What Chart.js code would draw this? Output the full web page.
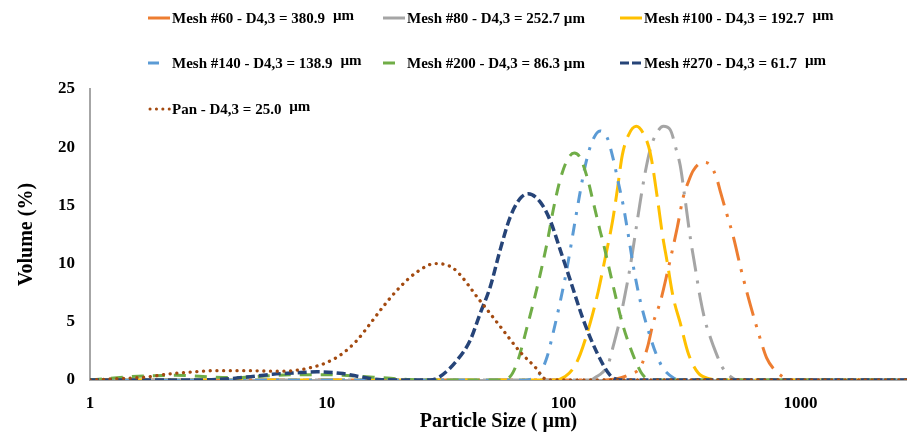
<!DOCTYPE html>
<html>
<head>
<meta charset="utf-8">
<script src="https://cdn.jsdelivr.net/npm/chart.js@4.4.1/dist/chart.umd.min.js"></script>
<style>
  body { margin: 0; background: #fff; }
  #wrap { position: relative; width: 907px; height: 434px; }
  .leg { position: absolute; height: 18px; font: bold 15px 'Liberation Serif', 'Times New Roman', serif; color: #000; white-space: nowrap; line-height: 18px; }
  .leg svg { position: absolute; left: 0; top: 6px; }
  .leg span.txt { position: absolute; left: 24px; top: 0; }
  .um { position: relative; top: -3px; margin-left: 4px; }
</style>
</head>
<body>
<div id="wrap">
  <canvas id="psdChart"></canvas>
  <div id="legend"></div>
</div>
<script>
// axis ticks
const xTicks = [1, 10, 100, 1000];
const yTicks = [0, 5, 10, 15, 20, 25];

// legend text
const seriesNames = ['Mesh #60', 'Mesh #80', 'Mesh #100', 'Mesh #140', 'Mesh #200', 'Mesh #270', 'Pan'];
const seriesD43 = [380.9, 252.7, 192.7, 138.9, 86.3, 61.7, 25.0];

// particle size (um) / volume (%)
const mesh60Size = [1, 150, 168, 191, 211, 226, 239, 256, 274, 302, 320, 336, 353, 389, 416, 445, 459, 490, 521, 560, 597, 640, 680, 720, 768, 839, 900, 3500];
const mesh60Vol  = [0, 0, 0.1, 0.5, 1.1, 2.8, 4.9, 6.7, 9.2, 13.1, 15.7, 17.0, 18.0, 18.7, 18.5, 17.2, 16.2, 14.2, 12.3, 9.6, 7.4, 5.2, 3.4, 1.9, 1.0, 0.3, 0, 0];

const mesh80Size = [1, 130, 138, 145, 154, 162, 173, 182, 191, 201, 211, 221, 232, 244, 264, 282, 299, 311, 326, 343, 360, 378, 397, 416, 437, 468, 506, 540, 3500];
const mesh80Vol  = [0, 0, 0.3, 0.6, 1.3, 2.9, 5.2, 7.4, 9.7, 12.6, 15.4, 17.8, 19.8, 21.0, 21.8, 21.5, 19.8, 18.4, 15.5, 12.2, 9.6, 7.0, 5.0, 3.7, 2.5, 1.1, 0.3, 0, 0];

const mesh100Size = [1, 92, 101.6, 109.8, 117.5, 129.5, 140, 149.9, 160.5, 168.5, 176.9, 187.5, 202.6, 216.9, 232.3, 248.6, 261, 274, 290.4, 310.9, 336, 370.4, 416.4, 450, 3500];
const mesh100Vol  = [0, 0, 0.3, 1.0, 2.2, 4.9, 7.6, 10.5, 13.5, 16.3, 19.3, 21.0, 21.8, 21.2, 19.5, 15.7, 12.6, 10.1, 7.1, 4.9, 2.3, 0.6, 0.1, 0, 0];

const mesh140Size = [1, 65, 72.3, 79.6, 85.2, 89.5, 96.7, 103.6, 109.8, 116.4, 123.4, 132.1, 142.7, 152.9, 162, 170.1, 178.6, 187.5, 196.9, 210.7, 232.3, 248.6, 263.5, 290.4, 310.9, 3500];
const mesh140Vol  = [0, 0, 0.05, 0.6, 2.0, 3.7, 6.7, 9.7, 12.7, 15.7, 18.4, 20.5, 21.4, 20.8, 19.0, 17.0, 15.0, 12.5, 9.8, 6.8, 3.7, 2.0, 1.0, 0.2, 0, 0];

const mesh200Size = [1, 1.3, 1.7, 2.3, 3.0, 4.0, 5.5, 7.0, 10, 13, 17, 22, 28, 54, 59.5, 63.7, 70.2, 77.4, 85.2, 90.4, 96.7, 103.6, 110.9, 117.5, 125.8, 133.4, 142.7, 147, 157.3, 168.5, 178.6, 191.2, 202.6, 214.8, 232.3, 3500];
const mesh200Vol  = [0, 0.2, 0.35, 0.4, 0.3, 0.2, 0.35, 0.45, 0.45, 0.35, 0.2, 0.05, 0, 0, 0.3, 1.5, 4.6, 8.0, 11.8, 14.6, 17.2, 18.9, 19.5, 19.1, 17.4, 15.3, 12.8, 11.8, 9.2, 6.6, 4.6, 2.8, 1.5, 0.5, 0, 0];

const mesh270Size = [1, 2.5, 3.5, 4.6, 5.9, 7.2, 9.1, 11.7, 14.1, 17, 27.3, 30.1, 35.5, 40.3, 44.4, 49, 54, 59.5, 65.6, 70.9, 79.6, 87.8, 96.7, 106.6, 121, 138.7, 157.3, 173.4, 3500];
const mesh270Vol  = [0, 0, 0.05, 0.25, 0.5, 0.6, 0.7, 0.55, 0.25, 0.02, 0, 0.3, 1.7, 3.4, 5.7, 8.0, 11.2, 14.0, 15.6, 16.0, 15.3, 13.7, 11.2, 8.6, 5.2, 2.3, 0.4, 0, 0];

const panSize = [1, 1.25, 1.74, 2.11, 2.72, 3.31, 4.61, 6.35, 7.49, 8.5, 10, 11.7, 13.4, 15.2, 17.3, 20.4, 24.1, 28.7, 34.2, 44.4, 54, 65.6, 77.4, 82, 88, 3500];
const panVol  = [0, 0.1, 0.26, 0.5, 0.7, 0.8, 0.8, 0.75, 0.85, 1.05, 1.5, 2.3, 3.4, 4.8, 6.3, 8.0, 9.3, 10.0, 9.6, 6.8, 4.6, 2.4, 0.9, 0.2, 0, 0];

const toPts = (xs, ys) => xs.map((x, i) => ({ x: x, y: ys[i] }));

// Excel-like line styles
const styles = [
    { color: '#ED7D31', dash: [24, 9, 3, 9, 3, 9], cap: 'butt', width: 3 },
    { color: '#A5A5A5', dash: [24, 9, 3, 9], cap: 'butt', width: 3 },
    { color: '#FFC000', dash: [24, 9], cap: 'butt', width: 3 },
    { color: '#5B9BD5', dash: [12, 9, 3, 9], cap: 'butt', width: 3 },
    { color: '#70AD47', dash: [12, 9], cap: 'butt', width: 3 },
    { color: '#264478', dash: [9, 4], cap: 'butt', width: 3.5 },
    { color: '#A34A10', dash: [0.1, 6.6], cap: 'round', width: 3.3 }
];
const sizes = [mesh60Size, mesh80Size, mesh100Size, mesh140Size, mesh200Size, mesh270Size, panSize];
const vols = [mesh60Vol, mesh80Vol, mesh100Vol, mesh140Vol, mesh200Vol, mesh270Vol, panVol];

const serif = "'Liberation Serif', 'Times New Roman', serif";

new Chart(document.getElementById('psdChart'), {
    type: 'line',
    data: {
        datasets: seriesNames.map((name, i) => ({
            label: name,
            data: toPts(sizes[i], vols[i]),
            borderColor: styles[i].color,
            borderWidth: styles[i].width,
            borderDash: styles[i].dash,
            borderCapStyle: styles[i].cap,
            pointRadius: 0,
            fill: false,
            cubicInterpolationMode: 'monotone',
            order: 6 - i
        }))
    },
    options: {
        responsive: true, maintainAspectRatio: false, animation: false,
        layout: { padding: { top: 89, left: 0, right: 0, bottom: 0 } },
        scales: {
            x: {
                type: 'logarithmic', min: 1, max: 2820,
                grid: { display: false, drawTicks: false },
                border: { color: '#A6A6A6', width: 2 },
                afterBuildTicks: s => { s.ticks = xTicks.map(v => ({ value: v })); },
                afterFit: s => { s.height = 54; },
                ticks: { autoSkip: false, maxRotation: 0, padding: 13, color: '#000',
                         font: { family: serif, size: 17, weight: 'bold' },
                         callback: v => String(v) },
                title: { display: true, text: 'Particle Size ( µm)', color: '#000',
                         font: { family: serif, size: 20, weight: 'bold' }, padding: { top: 0, bottom: 0 } }
            },
            y: {
                min: 0, max: 25,
                grid: { display: false, drawTicks: false },
                border: { color: '#A6A6A6', width: 2 },
                afterBuildTicks: s => { s.ticks = yTicks.map(v => ({ value: v })); },
                afterFit: s => { s.width = 90; },
                ticks: { padding: 15, color: '#000', font: { family: serif, size: 17, weight: 'bold' } },
                title: { display: true, text: 'Volume (%)', color: '#000',
                         font: { family: serif, size: 20, weight: 'bold' }, padding: { top: 15, bottom: 0 } }
            }
        },
        plugins: { legend: { display: false }, tooltip: { enabled: false } }
    }
});

// custom legend laid out like the Excel one
const legendPos = [[148, 9], [383, 9], [620, 9], [148, 54], [383, 54], [620, 54], [148, 100]];
const markerSvg = [
    '<line x1="0" y1="3" x2="22" y2="3"/>',
    '<line x1="0" y1="3" x2="22" y2="3"/>',
    '<line x1="0" y1="3" x2="22" y2="3"/>',
    '<line x1="0" y1="3" x2="11" y2="3"/>',
    '<line x1="0" y1="3" x2="12" y2="3"/>',
    '<line x1="0" y1="3" x2="21" y2="3" stroke-dasharray="9,3"/>',
    '<line x1="2" y1="3" x2="22" y2="3" stroke-dasharray="0.1,6.3" stroke-linecap="round"/>'
];
const raisedUnit = [true, false, true, true, false, true, true];
const legend = document.getElementById('legend');
seriesNames.forEach((name, i) => {
    const d = document.createElement('div');
    d.className = 'leg';
    d.style.left = legendPos[i][0] + 'px';
    d.style.top = legendPos[i][1] + 'px';
    const unit = raisedUnit[i] ? '<span class="um">µm</span>' : 'µm';
    d.innerHTML = '<svg width="24" height="6" stroke="' + styles[i].color + '" stroke-width="3">' + markerSvg[i] + '</svg>' +
        '<span class="txt">' + name + ' - D4,3 = ' + seriesD43[i].toFixed(1) + ' ' + unit + '</span>';
    legend.appendChild(d);
});
</script>
</body>
</html>
